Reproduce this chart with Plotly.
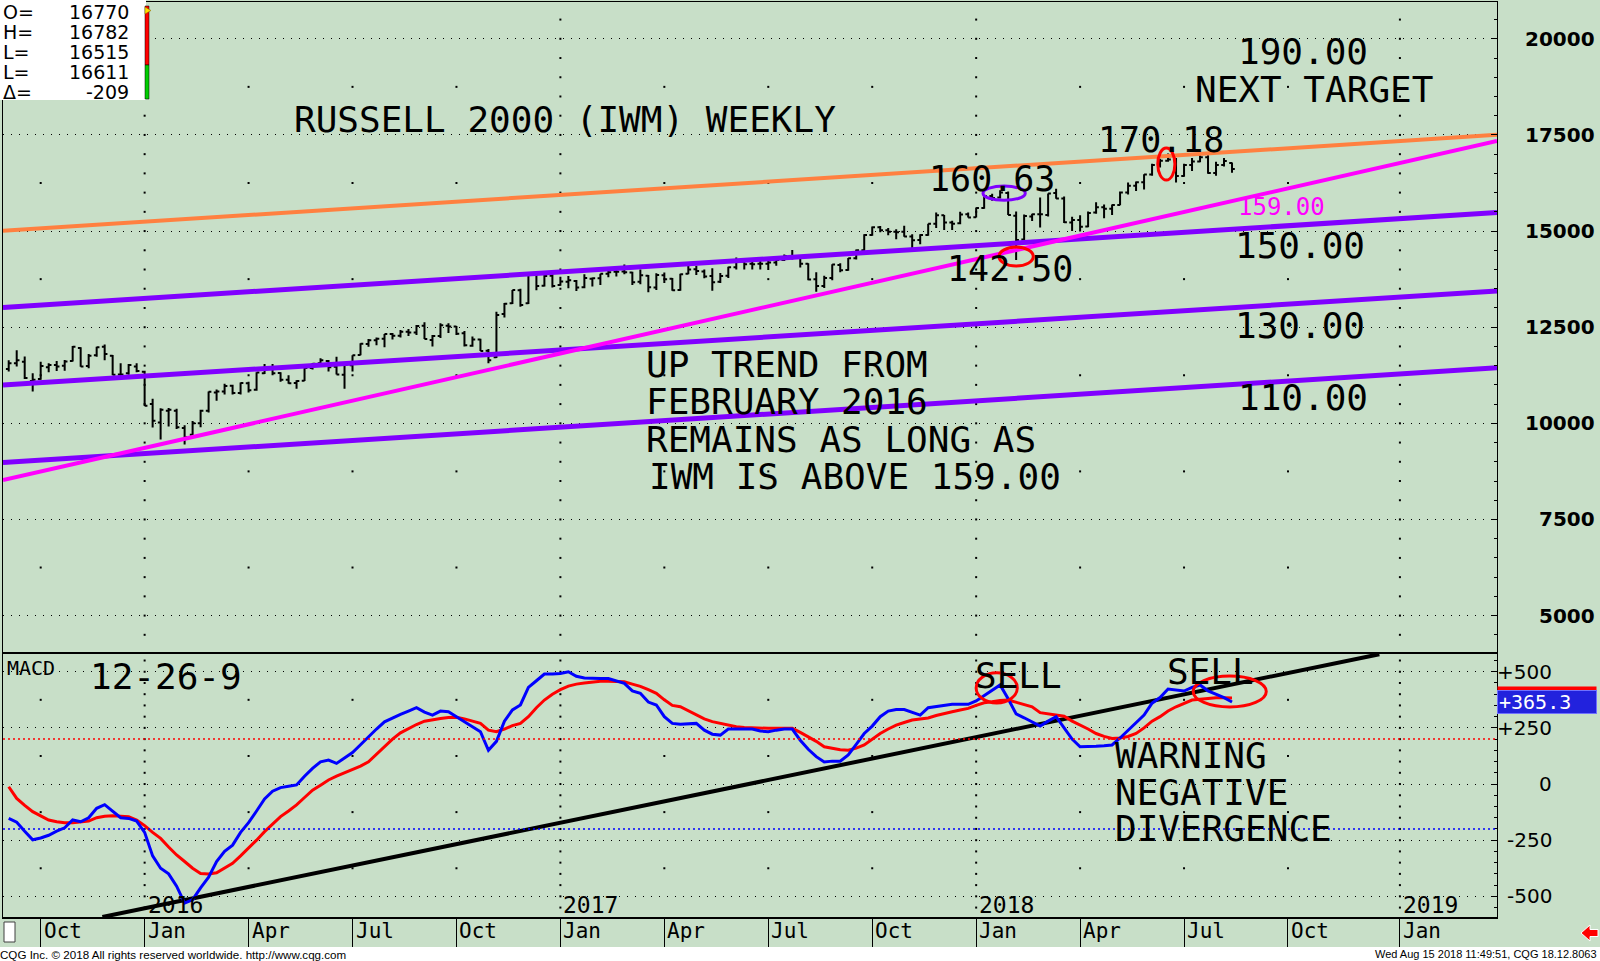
import plotly.graph_objects as go
import pandas as pd

# ---------------- layout geometry (pixels of the 1600x961 page) ----------------
W, H = 1600, 961
PL, PR, PT, PB = 3, 1497, 2, 917


def fx(p):
    return (p - PL) / (PR - PL)


def fy(p):
    return (PB - p) / (PB - PT)


# ---------------- data ----------------
FIRST_WEEK = "2015-09-07"

OPEN = [11410, 11560, 11600, 11100, 11150, 11460, 11520, 11500, 11620, 11960,
        11490, 11770, 11990, 11760, 11270, 11300, 11480, 11340, 10500, 10020,
        10330, 10330, 9880, 9700, 10000, 10330, 10800, 10830, 10980, 10790,
        11040, 10870, 11300, 11460, 11310, 11130, 11050, 11110, 11440, 11560,
        11620, 11470, 11260, 11510, 11780, 12060, 12160, 12200, 12320, 12280,
        12380, 12360, 12540, 12170, 12270, 12540, 12520, 12340, 12020, 12180,
        11890, 11720, 12840, 13120, 13460, 13120, 13870, 13580, 13840, 13600,
        13680, 13700, 13540, 13760, 13770, 13890, 13940, 13950, 13920, 13680,
        13840, 13530, 13850, 13760, 13470, 13890, 14010, 13950, 13830, 13680,
        13840, 14060, 14210, 14150, 14150, 14150, 14180, 14250, 14350, 14330,
        14150, 13750, 13570, 13780, 14120, 13990, 14290, 14500, 14900, 15100,
        15020, 14980, 14980, 14860, 14770, 14900, 15190, 15410, 15220, 15200,
        15440, 15360, 15600, 15910, 15870, 15990, 15400, 14780, 15380, 15440,
        15420, 15990, 15850, 15220, 15290, 15120, 15480, 15620, 15580, 15680,
        16000, 16180, 16270, 16470, 16720, 16830, 16850, 16430, 16720, 16810,
        16920, 16510, 16720, 16770]
HIGH = [11640, 11900, 11740, 11300, 11600, 11560, 11620, 11650, 12010, 11980,
        11800, 11990, 12050, 11780, 11560, 11540, 11560, 11370, 10640, 10390,
        10400, 10380, 9950, 10060, 10350, 10830, 10880, 11030, 11000, 11060,
        11080, 11330, 11540, 11540, 11330, 11250, 11120, 11440, 11570, 11690,
        11650, 11730, 11520, 11770, 12080, 12190, 12230, 12320, 12350, 12430,
        12450, 12560, 12630, 12300, 12600, 12600, 12530, 12400, 12260, 12200,
        11930, 12900, 13130, 13470, 13500, 13890, 13920, 13880, 13890, 13810,
        13830, 13730, 13880, 13790, 13890, 13960, 14000, 14130, 13940, 14000,
        13860, 13900, 13920, 13780, 13890, 14190, 14100, 14000, 14030, 13910,
        14070, 14310, 14220, 14230, 14250, 14220, 14270, 14390, 14510, 14380,
        14160, 13930, 13840, 14140, 14160, 14300, 14520, 14920, 15120, 15130,
        15080, 15050, 15140, 14920, 14920, 15190, 15480, 15420, 15270, 15500,
        15480, 15610, 15920, 15970, 16063, 16030, 15510, 15430, 15450, 15870,
        15980, 16100, 15900, 15370, 15410, 15510, 15750, 15690, 15690, 16030,
        16260, 16290, 16480, 16750, 16880, 17018, 16900, 16750, 16900, 17000,
        16970, 16800, 16900, 16782]
LOW = [11350, 11480, 11150, 10830, 11130, 11330, 11360, 11370, 11610, 11470,
       11430, 11730, 11640, 11250, 11140, 11260, 11330, 10450, 9890, 9580,
       9920, 9850, 9450, 9690, 9900, 10280, 10590, 10750, 10750, 10750,
       10800, 10850, 11280, 11250, 11080, 11030, 10900, 11100, 11400, 11540,
       11350, 11270, 10900, 11350, 11770, 11990, 12030, 11980, 12180, 12230,
       12270, 12300, 12190, 12000, 12220, 12350, 12300, 12000, 11990, 11880,
       11560, 11700, 12750, 13100, 13030, 13100, 13460, 13560, 13530, 13580,
       13510, 13440, 13510, 13560, 13600, 13800, 13820, 13880, 13600, 13620,
       13410, 13470, 13650, 13450, 13450, 13880, 13860, 13770, 13450, 13650,
       13780, 14000, 14000, 14000, 14000, 13990, 14100, 14220, 14260, 14050,
       13720, 13420, 13520, 13720, 13930, 13970, 14260, 14450, 14880, 14970,
       14890, 14790, 14850, 14530, 14660, 14880, 15080, 15030, 15030, 15180,
       15350, 15350, 15580, 15790, 15850, 15420, 14250, 14760, 15260, 15090,
       15380, 15840, 15210, 15000, 14990, 15100, 15450, 15330, 15420, 15670,
       15950, 16040, 16080, 16440, 16650, 16800, 16260, 16410, 16560, 16790,
       16490, 16440, 16680, 16515]
CLOSE = [11560, 11640, 11180, 11130, 11490, 11520, 11480, 11610, 11990, 11480,
         11760, 11980, 11800, 11260, 11270, 11520, 11360, 10460, 10070, 10350,
         10350, 9900, 9640, 10000, 10330, 10820, 10830, 10970, 10790, 11050,
         10860, 11320, 11460, 11300, 11130, 11040, 11100, 11440, 11550, 11640,
         11460, 11270, 11520, 11770, 12070, 12160, 12200, 12320, 12280, 12380,
         12360, 12530, 12190, 12270, 12550, 12520, 12330, 12030, 12180, 11880,
         11640, 12820, 13110, 13470, 13080, 13890, 13570, 13830, 13570, 13690,
         13720, 13530, 13780, 13770, 13890, 13930, 13940, 13930, 13670, 13850,
         13540, 13860, 13750, 13460, 13880, 14000, 13960, 13820, 13670, 13830,
         14060, 14200, 14140, 14140, 14150, 14180, 14250, 14350, 14320, 14150,
         13740, 13570, 13780, 14130, 13980, 14290, 14500, 14900, 15100, 15020,
         14980, 14970, 14860, 14760, 14900, 15190, 15410, 15220, 15190, 15430,
         15350, 15600, 15910, 15860, 16000, 15420, 14770, 15390, 15440, 15440,
         15980, 15850, 15230, 15290, 15110, 15470, 15620, 15580, 15680, 16000,
         16180, 16270, 16470, 16720, 16830, 16860, 16430, 16720, 16810, 16920,
         16510, 16720, 16820, 16611]

MACD = [-153, -170, -210, -248, -240, -228, -210, -195, -160, -168,
        -150, -108, -92, -122, -150, -153, -165, -215, -320, -375,
        -400, -455, -530, -515, -462, -415, -345, -300, -272, -215,
        -172, -120, -66, -32, -16, -10, -4, 35, 70, 99,
        107, 92, 115, 140, 175, 211, 245, 277, 295, 310,
        325, 340, 320, 307, 325, 322, 300, 277, 255, 233,
        150, 190, 280, 330, 352, 430, 460, 490, 490, 492,
        500, 480, 472, 470, 470, 470, 460, 448, 415, 404,
        365, 352, 300, 270, 266, 268, 270, 240, 222, 218,
        245, 245, 245, 245, 236, 233, 240, 245, 245, 195,
        155, 122, 98, 102, 102, 130, 177, 225, 258, 300,
        325, 332, 332, 318, 307, 340, 344, 350, 355, 355,
        355, 370, 395, 420, 441, 380, 312, 295, 275, 258,
        280, 300, 250, 200, 166, 166, 168, 170, 174, 205,
        240, 275, 307, 360, 385, 423, 420, 414, 430, 441,
        415, 400, 385, 365.3]
SIGNAL = [-12, -64, -95, -123, -142, -160, -168, -172, -172, -170,
          -165, -150, -143, -141, -142, -145, -160, -185, -215, -242,
          -280, -316, -345, -375, -398, -400, -395, -372, -353, -320,
          -286, -250, -212, -178, -145, -120, -93, -60, -27, -5,
          18, 35, 50, 62, 80, 99, 132, 166, 200, 228,
          248, 265, 280, 287, 292, 296, 297, 290, 280, 270,
          240, 233, 245, 260, 270, 300, 340, 374, 400, 420,
          436, 445, 450, 455, 458, 458, 457, 455, 445, 435,
          420, 404, 375, 350, 344, 325, 307, 290, 278, 270,
          262, 255, 252, 250, 248, 248, 248, 248, 248, 230,
          211, 190, 166, 158, 153, 151, 160, 174, 200, 225,
          245, 262, 274, 285, 290, 294, 305, 315, 322, 330,
          337, 350, 362, 366, 372, 374, 365, 355, 344, 318,
          312, 306, 302, 280, 263, 245, 225, 212, 203, 205,
          212, 225, 250, 280, 300, 325, 344, 360, 374, 378,
          382, 384, 384, 383.1]

weeks = pd.date_range(FIRST_WEEK, periods=len(CLOSE), freq="7D")

X_RANGE = ["2015-09-02", "2019-04-02"]
PRICE_RANGE = [4027, 20957]
MACD_RANGE = [-592, 579]
PRICE_TICKS = [5000, 7500, 10000, 12500, 15000, 17500, 20000]
MACD_TICKS = [-500, -250, 0, 250, 500]
MACD_TICK_TEXT = ["-500", "-250", "0", "+250", "+500"]

QUARTER_DATES = ["2015-10-05", "2016-01-04", "2016-04-04", "2016-07-04", "2016-10-03",
                 "2017-01-02", "2017-04-03", "2017-07-03", "2017-10-02", "2018-01-01",
                 "2018-04-02", "2018-07-02", "2018-10-01", "2019-01-07"]
QUARTER_LABELS = ["Oct", "Jan", "Apr", "Jul", "Oct", "Jan", "Apr", "Jul", "Oct", "Jan",
                  "Apr", "Jul", "Oct", "Jan"]
YEAR_DATES = ["2016-01-04", "2017-01-02", "2018-01-01", "2019-01-07"]
YEAR_LABELS = ["2016", "2017", "2018", "2019"]

# trend lines drawn on the price panel (value at left edge, value at right edge)
TREND_X = ["2015-09-02", "2019-04-02"]
ORANGE_LINE = [15008, 17503]
MAGENTA_LINE = [8525, 17344]
PURPLE_UPPER = [13015, 15484]
PURPLE_MID = [10996, 13439]
PURPLE_LOW = [8978, 11446]
# trend line on the MACD panel
MACD_TREND_X = ["2015-11-28", "2018-12-20"]
MACD_TREND = [-592, 578]
MACD_SIGNAL_LEVELS = [200, -200]

QUOTE_LABELS = ["O=", "H=", "L=", "L=", "Δ="]
QUOTE_VALUES = ["16770", "16782", "16515", "16611", "-209"]

LAST_MACD = 365.3
LAST_SIGNAL = 383.1

# ---------------- styles ----------------
BG = "#C8DFC8"
MONO = "DejaVu Sans Mono"
SANS = "DejaVu Sans"
ORANGE = "#FF8040"
PURPLE = "#8000FF"
MAGENTA = "#FF00FF"

fig = go.Figure()

# grid dots (CQG style)
gx, gy = [], []
for d in YEAR_DATES:
    for v in range(4500, 21000, 500):
        gx.append(d); gy.append(v)
for d in QUARTER_DATES:
    if d in YEAR_DATES:
        continue
    for k in range(len(PRICE_TICKS) - 1):
        gx.append(d); gy.append((PRICE_TICKS[k] + PRICE_TICKS[k + 1]) / 2)
fig.add_trace(go.Scatter(x=gx, y=gy, mode="markers", xaxis="x", yaxis="y",
                         marker=dict(size=2, color="black", symbol="square"),
                         hoverinfo="skip", showlegend=False))
gx2, gy2 = [], []
for d in YEAR_DATES:
    for v in range(-550, 600, 50):
        gx2.append(d); gy2.append(v)
for d in QUARTER_DATES:
    if d in YEAR_DATES:
        continue
    for k in range(len(MACD_TICKS) - 1):
        gx2.append(d); gy2.append((MACD_TICKS[k] + MACD_TICKS[k + 1]) / 2)
fig.add_trace(go.Scatter(x=gx2, y=gy2, mode="markers", xaxis="x2", yaxis="y2",
                         marker=dict(size=2, color="black", symbol="square"),
                         hoverinfo="skip", showlegend=False))

# price trend lines
for vals, col, wdt in [(PURPLE_LOW, PURPLE, 5), (PURPLE_MID, PURPLE, 5), (PURPLE_UPPER, PURPLE, 5),
                       (MAGENTA_LINE, MAGENTA, 4), (ORANGE_LINE, ORANGE, 4)]:
    fig.add_trace(go.Scatter(x=TREND_X, y=vals, mode="lines", xaxis="x", yaxis="y",
                             line=dict(color=col, width=wdt), hoverinfo="skip", showlegend=False))

# weekly OHLC bars
fig.add_trace(go.Ohlc(x=weeks, open=OPEN, high=HIGH, low=LOW, close=CLOSE,
                      xaxis="x", yaxis="y", tickwidth=0.35,
                      increasing=dict(line=dict(color="black", width=2)),
                      decreasing=dict(line=dict(color="black", width=2)),
                      hoverinfo="skip", showlegend=False))

# MACD panel
fig.add_trace(go.Scatter(x=MACD_TREND_X, y=MACD_TREND, mode="lines", xaxis="x2", yaxis="y2",
                         line=dict(color="black", width=4), hoverinfo="skip", showlegend=False))
fig.add_trace(go.Scatter(x=weeks, y=SIGNAL, mode="lines", xaxis="x2", yaxis="y2",
                         line=dict(color="#FF0000", width=3), hoverinfo="skip", showlegend=False))
fig.add_trace(go.Scatter(x=weeks, y=MACD, mode="lines", xaxis="x2", yaxis="y2",
                         line=dict(color="#0000FF", width=3), hoverinfo="skip", showlegend=False))

shapes = []
# dotted signal levels
for lv, col in zip(MACD_SIGNAL_LEVELS, ["#FF0000", "#0000FF"]):
    shapes.append(dict(type="line", xref="paper", yref="y2", x0=0, x1=1, y0=lv, y1=lv,
                       line=dict(color=col, width=1.5, dash="2px,3px")))
# ellipses
shapes += [
    dict(type="circle", xref="x", yref="y", x0="2018-01-07", x1="2018-02-13", y0=15800, y1=16170,
         line=dict(color=PURPLE, width=3)),
    dict(type="circle", xref="x", yref="y", x0="2018-01-21", x1="2018-02-20", y0=14090, y1=14583,
         line=dict(color="#FF0000", width=3)),
    dict(type="circle", xref="x", yref="y", x0="2018-06-09", x1="2018-06-24", y0=16326, y1=17159,
         line=dict(color="#FF0000", width=3)),
    dict(type="circle", xref="x2", yref="y2", x0="2018-01-01", x1="2018-02-06", y0=361, y1=495,
         line=dict(color="#FF0000", width=3)),
    dict(type="circle", xref="x2", yref="y2", x0="2018-07-10", x1="2018-09-12", y0=343, y1=481,
         line=dict(color="#FF0000", width=3)),
]
# footer band
shapes.append(dict(type="rect", xref="paper", yref="paper", x0=fx(-5), x1=fx(1605), y0=fy(966), y1=fy(947),
                   fillcolor="white", line=dict(width=0), layer="above"))
# quote box
shapes.append(dict(type="rect", xref="paper", yref="paper", x0=fx(-2), x1=fx(146), y0=fy(100), y1=fy(-2),
                   fillcolor="white", line=dict(width=0), layer="above"))
shapes.append(dict(type="rect", xref="paper", yref="paper", x0=fx(145), x1=fx(149), y0=fy(65), y1=fy(6),
                   fillcolor="#FF0000", line=dict(color="black", width=0.5), layer="above"))
shapes.append(dict(type="rect", xref="paper", yref="paper", x0=fx(145), x1=fx(149), y0=fy(99), y1=fy(65),
                   fillcolor="#00CC00", line=dict(color="black", width=0.5), layer="above"))
shapes.append(dict(type="path", xref="paper", yref="paper",
                   path=f"M {fx(145)},{fy(7)} L {fx(151)},{fy(10.5)} L {fx(145)},{fy(14)} Z",
                   fillcolor="#FFE000", line=dict(color="#806000", width=0.5), layer="above"))
# small white box bottom-left
shapes.append(dict(type="rect", xref="paper", yref="paper", x0=fx(4), x1=fx(15), y0=fy(942), y1=fy(922),
                   fillcolor="white", line=dict(color="#404040", width=1), layer="above"))
# red arrow bottom-right
shapes.append(dict(type="path", xref="paper", yref="paper",
                   path=(f"M {fx(1581)},{fy(933)} L {fx(1590)},{fy(925)} L {fx(1590)},{fy(929.5)} "
                         f"L {fx(1598)},{fy(929.5)} L {fx(1598)},{fy(936.5)} L {fx(1590)},{fy(936.5)} "
                         f"L {fx(1590)},{fy(941)} Z"),
                   fillcolor="#FF0000", line=dict(color="white", width=1), layer="above"))

ann = []


def txt(s, x, y, size=36, color="black", family=MONO, anchor="left", **kw):
    ann.append(dict(text=s, xref="paper", yref="paper", x=fx(x), y=fy(y), xanchor=anchor,
                    yanchor="middle", showarrow=False, font=dict(family=family, size=size, color=color),
                    **kw))


txt("RUSSELL 2000 (IWM) WEEKLY", 292, 120)
txt("190.00", 1236, 51)
txt("NEXT TARGET", 1193, 89)
txt("170.18", 1096, 140, size=35)
txt("160.63", 927, 179, size=35)
txt("159.00", 1236, 207, size=24, color=MAGENTA)
txt("150.00", 1233, 245)
txt("142.50", 945, 269, size=35)
txt("130.00", 1233, 325)
txt("110.00", 1236, 398)
txt("UP TREND FROM", 644, 364)
txt("FEBRUARY 2016", 644, 401)
txt("REMAINS AS LONG AS", 644, 439)
txt("IWM IS ABOVE 159.00", 647, 476)
txt("MACD", 5, 668, size=20)
txt("12-26-9", 88, 676)
txt("SELL", 973, 675)
txt("SELL", 1165, 671)
txt("WARNING", 1113, 755)
txt("NEGATIVE", 1113, 792)
txt("DIVERGENCE", 1113, 829)

# quote box text
for i, (lab, val) in enumerate(zip(QUOTE_LABELS, QUOTE_VALUES)):
    yy = 12 + 20 * i
    txt(lab, 1, yy, size=19, family=SANS, height=18, valign="middle")
    txt(val, 131, yy, size=19, family=SANS, anchor="right", height=18, valign="middle")

# footer
txt("CQG Inc. © 2018 All rights reserved worldwide. http://www.cqg.com", -2, 954, size=11.6,
    family="Liberation Sans")
txt("Wed Aug 15 2018 11:49:51, CQG 18.12.8063", 1599, 954, size=11, family="Liberation Sans",
    anchor="right")

# month labels in bottom strip and year labels inside MACD panel
for d, lab in zip(QUARTER_DATES, QUARTER_LABELS):
    ann.append(dict(text=lab, xref="x2", yref="paper", x=d, y=fy(931), xanchor="left", yanchor="middle",
                    xshift=1, showarrow=False, font=dict(family=MONO, size=21, color="black")))
for d, lab in zip(YEAR_DATES, YEAR_LABELS):
    ann.append(dict(text=lab, xref="x2", yref="paper", x=d, y=fy(905), xanchor="left", yanchor="middle",
                    xshift=1, showarrow=False, font=dict(family=MONO, size=23, color="black")))

# right axis labels
for v in PRICE_TICKS:
    ann.append(dict(text=str(v), xref="paper", yref="y", x=1, y=v, xanchor="right", yanchor="middle",
                    xshift=100, showarrow=False,
                    font=dict(family=SANS, size=20, color="black", weight="bold")))
for v, t in zip(MACD_TICKS, MACD_TICK_TEXT):
    ann.append(dict(text=t, xref="paper", yref="y2", x=1, y=v, xanchor="right", yanchor="middle",
                    xshift=57, showarrow=False, font=dict(family=SANS, size=20, color="black")))

# last-value boxes
ann.append(dict(text="+" + str(LAST_SIGNAL), xref="paper", yref="y2", x=1, y=LAST_SIGNAL, xanchor="left",
                yanchor="middle", xshift=0, showarrow=False, width=96, height=20, align="left",
                bgcolor="#FF0000", font=dict(family=MONO, size=20, color="white")))
ann.append(dict(text="+" + str(LAST_MACD), xref="paper", yref="y2", x=1, y=LAST_MACD, xanchor="left",
                yanchor="middle", xshift=0, showarrow=False, width=96, height=20, align="left",
                bgcolor="#2222DD", bordercolor="#7070FF", borderwidth=1,
                font=dict(family=MONO, size=20, color="white")))

UPPER_DOM = [fy(653), 1]
LOWER_DOM = [0, fy(654)]

fig.update_layout(
    width=W, height=H,
    margin=dict(l=PL, r=W - PR, t=PT, b=H - PB),
    paper_bgcolor=BG, plot_bgcolor=BG,
    showlegend=False, hovermode=False,
    shapes=shapes, annotations=ann,
    xaxis=dict(domain=[0, 1], anchor="y", range=X_RANGE, type="date",
               showticklabels=False, ticks="", showgrid=False, zeroline=False,
               showline=True, linecolor="black", linewidth=1, mirror=True,
               rangeslider=dict(visible=False)),
    xaxis2=dict(domain=[0, 1], anchor="y2", matches="x", range=X_RANGE, type="date",
                tickmode="array", tickvals=QUARTER_DATES, showticklabels=False,
                ticks="outside", ticklen=30, tickcolor="black", tickwidth=1,
                showgrid=False, zeroline=False,
                showline=True, linecolor="black", linewidth=2, mirror=True),
    yaxis=dict(domain=UPPER_DOM, anchor="x", side="right", range=PRICE_RANGE,
               tickmode="array", tickvals=PRICE_TICKS, showticklabels=False,
               ticks="inside", ticklen=6, tickcolor="black",
               minor=dict(tickmode="linear", tick0=0, dtick=500, ticks="inside", ticklen=3,
                          tickcolor="black", showgrid=False),
               showgrid=True, gridcolor="black", gridwidth=1, griddash="1px,7px", zeroline=False,
               showline=True, linecolor="black", linewidth=1, mirror=True),
    yaxis2=dict(domain=LOWER_DOM, anchor="x2", side="right", range=MACD_RANGE,
                tickmode="array", tickvals=MACD_TICKS, showticklabels=False,
                ticks="inside", ticklen=6, tickcolor="black",
                minor=dict(tickmode="linear", tick0=0, dtick=50, ticks="inside", ticklen=3,
                           tickcolor="black", showgrid=False),
                showgrid=True, gridcolor="black", gridwidth=1, griddash="1px,7px", zeroline=False,
                showline=True, linecolor="black", linewidth=1, mirror=True),
)

fig.write_html(
    "out.html",
    config={"displayModeBar": False},
    post_script=("document.body.style.margin='0px';"
                 "document.body.style.overflow='hidden';"
                 "document.documentElement.style.overflow='hidden';"),
)
